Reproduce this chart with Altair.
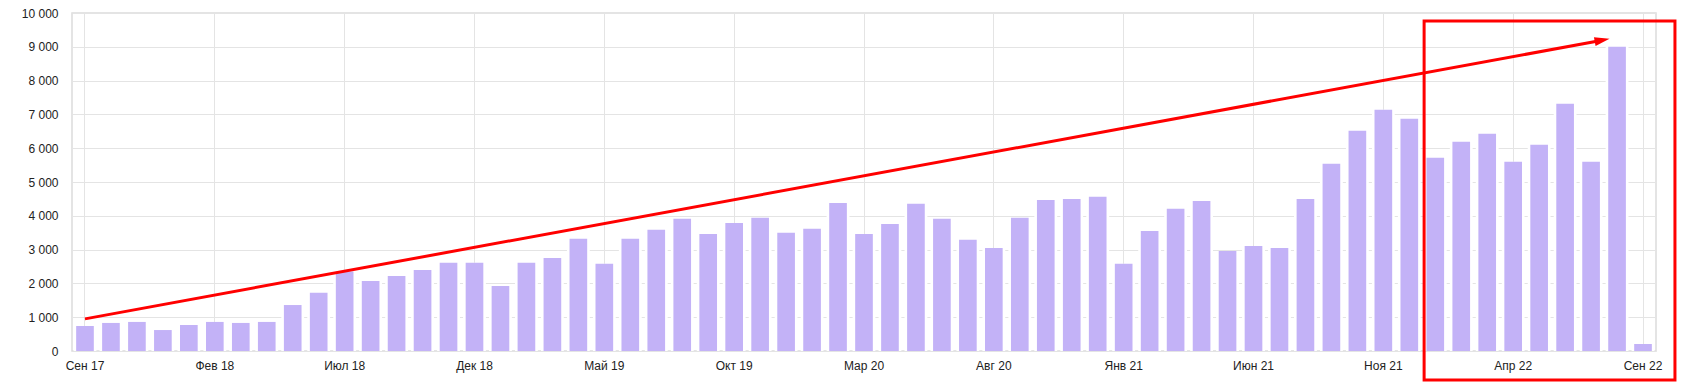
import altair as alt
import pandas as pd

# ---- data ----
month_names = ["Сен", "Окт", "Ноя", "Дек", "Янв", "Фев", "Мар", "Апр", "Май", "Июн", "Июл", "Авг"]
start_year = 17
n_months = 61
months = [f"{month_names[i % 12]} {start_year + (i + 8) // 12}" for i in range(n_months)]

values = [740, 830, 860, 620, 770, 860, 830, 860, 1360, 1720, 2350, 2070, 2220, 2400, 2610, 2610,
          1925, 2610, 2755, 3320, 2580, 3320, 3585, 3910, 3465, 3790, 3940, 3495, 3615, 4380, 3465,
          3760, 4355, 3910, 3290, 3050, 3940, 4470, 4500, 4560, 2580, 3550, 4205, 4440, 2960, 3110,
          3050, 4500, 5540, 6515, 7140, 6870, 5715, 6190, 6425, 5600, 6100, 7315, 5600, 9000, 207]

tick_months = months[::5]
y_ticks = list(range(0, 10001, 1000))

# annotation (data units: x = month index, y = value)
arrow_x = [0, 58.38]
arrow_y = [950, 9187]
head_x = [58.71]
head_y = [9235]
box_x, box_x2 = [51.57], [61.23]
box_y, box_y2 = [9762], [-859]

df = pd.DataFrame({"month": months, "value": values})
arrow_df = pd.DataFrame({"x": arrow_x, "value": arrow_y})
head_df = pd.DataFrame({"x": head_x, "value": head_y})
box_df = pd.DataFrame({"x": box_x, "x2": box_x2, "value": box_y, "value2": box_y2})

yscale = alt.Scale(domain=[0, 10000], nice=False, zero=True)
xq = alt.Scale(domain=[-0.5, n_months - 0.5], nice=False, zero=False)
xband = alt.Scale(paddingInner=0, paddingOuter=0)

y_axis = alt.Axis(values=y_ticks, title=None, ticks=False, domain=False, grid=True,
                  gridColor="#e4e4e4", labelFontSize=12, labelColor="#222",
                  labelPadding=14, labelFont="Arial, Liberation Sans",
                  labelExpr="replace(format(datum.value, ','), ',', ' ')")
x_axis = alt.Axis(values=tick_months, labelAngle=0, title=None, ticks=False, domain=False,
                  grid=True, gridColor="#e4e4e4", labelFontSize=12, labelColor="#222",
                  labelPadding=9, labelFont="Arial, Liberation Sans")

# white halo behind bars (gridlines stop short of bars, as in the reference)
halo = alt.Chart(df).mark_bar(color="white", width=alt.RelativeBandSize(0.88)).encode(
    x=alt.X("month:N", sort=months, scale=xband, axis=x_axis),
    y=alt.Y("value:Q", scale=yscale, axis=y_axis),
)

bars = alt.Chart(df).mark_bar(color="#C3B2F7", width=alt.RelativeBandSize(0.68)).encode(
    x=alt.X("month:N", sort=months, scale=xband, axis=x_axis),
    y=alt.Y("value:Q", scale=yscale, axis=y_axis),
)

base = alt.layer(halo, bars)

arrow = alt.Chart(arrow_df).mark_line(color="#ff0000", strokeWidth=3).encode(
    x=alt.X("x:Q", scale=xq, axis=None),
    y=alt.Y("value:Q", scale=yscale, axis=y_axis),
)

head = alt.Chart(head_df).mark_point(
    shape="M0,0 L-2,-0.6 L-2,0.6 Z", filled=True, color="#ff0000", opacity=1,
    size=225, angle=349.6, strokeWidth=0
).encode(
    x=alt.X("x:Q", scale=xq, axis=None),
    y=alt.Y("value:Q", scale=yscale, axis=y_axis),
)

box = alt.Chart(box_df).mark_rect(filled=False, stroke="#ff0000", strokeWidth=3, fillOpacity=0).encode(
    x=alt.X("x:Q", scale=xq, axis=None),
    x2="x2:Q",
    y=alt.Y("value:Q", scale=yscale, axis=y_axis),
    y2="value2:Q",
)

annot = alt.layer(arrow, head, box)

chart = alt.layer(base, annot).resolve_scale(x="independent").properties(
    width=1584, height=338,
    autosize=alt.AutoSizeParams(type="none"),
    padding={"left": 72, "top": 13, "right": 30, "bottom": 34},
    background="white",
).configure_view(stroke="#dcdcdc", strokeWidth=1.5)

chart.save("out.html", embed_options={"renderer": "svg", "actions": False})
